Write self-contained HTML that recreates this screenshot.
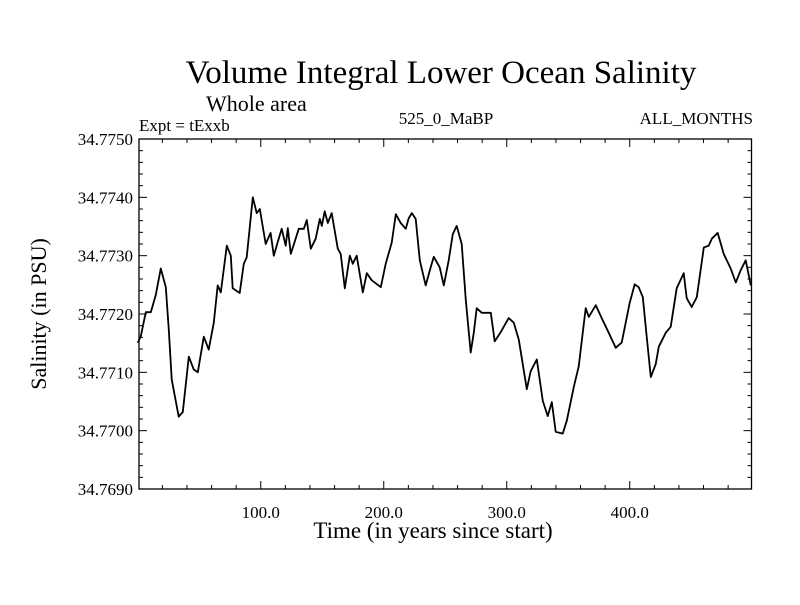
<!DOCTYPE html>
<html><head><meta charset="utf-8"><style>
html,body{margin:0;padding:0;background:#fff;}
svg text{font-family:"Liberation Serif",serif;fill:#000;}
</style></head><body>
<svg id="chart" width="800" height="600" viewBox="0 0 800 600" xmlns="http://www.w3.org/2000/svg">
<rect width="800" height="600" fill="#fff"/>
<text x="441" y="83" font-size="33" text-anchor="middle">Volume Integral Lower Ocean Salinity</text>
<text x="206" y="111" font-size="22">Whole area</text>
<text x="139" y="131" font-size="17">Expt = tExxb</text>
<text x="446" y="124" font-size="17" text-anchor="middle">525_0_MaBP</text>
<text x="753" y="124" font-size="17" text-anchor="end">ALL_MONTHS</text>
<text x="433" y="538" font-size="23" text-anchor="middle">Time (in years since start)</text>
<text x="0" y="0" font-size="22" text-anchor="middle" transform="translate(46,314) rotate(-90)">Salinity (in PSU)</text>
<g id="axes"></g>
<g id="plot"></g>
</svg>
<script>
const years=[0,2.4,6.5,10.6,14.6,18.7,22.8,25.2,27.6,33.3,36.6,41.5,45.5,48.8,53.7,57.7,61.8,65,67.5,72.4,75.6,77.2,82.9,86.2,88.6,93.5,96.7,99.2,104,108,110.6,114.6,117,120.3,122,124.4,130.9,135,137.4,140.7,144.7,148,149.6,152,154.5,157.7,162.6,165,168.3,172.4,174.8,178,183,186.2,190.2,197.6,201.6,206.5,209.8,213.8,217.9,220.3,222.8,226,229.3,234.1,238.2,240.7,245.5,248.8,252.8,256.1,259.3,263.4,266.7,270.7,273.2,275.6,279.7,287,290.2,295.1,301.6,305.7,309.8,316.3,319.5,324.4,329.3,333.3,336.6,339.8,345.5,348.8,354.5,358.5,364.2,366.7,372.4,377.2,382.9,388.6,393.5,400,404,407.3,410.6,413.8,417.1,421.1,423.6,429.3,433.3,438.2,443.9,446.3,450.4,454.5,460.2,464.2,466.7,471.5,476.4,482.1,486.2,490.2,494.3,498.4];
const salinity=[34.77151,34.77161,34.77203,34.77203,34.77232,34.77278,34.77246,34.77173,34.77088,34.77024,34.77032,34.77127,34.77105,34.77100,34.77161,34.77139,34.77185,34.77249,34.77237,34.77317,34.77300,34.77244,34.77236,34.77286,34.77297,34.77400,34.77373,34.77380,34.77320,34.77339,34.77300,34.77329,34.77346,34.77317,34.77347,34.77303,34.77346,34.77346,34.77361,34.77312,34.77329,34.77363,34.77351,34.77376,34.77356,34.77373,34.77312,34.77303,34.77244,34.77300,34.77286,34.77300,34.77237,34.77270,34.77258,34.77246,34.77286,34.77322,34.77371,34.77356,34.77346,34.77364,34.77373,34.77363,34.77292,34.77249,34.77280,34.77298,34.77280,34.77249,34.77292,34.77337,34.77351,34.77320,34.77224,34.77134,34.77168,34.77210,34.77202,34.77202,34.77153,34.77169,34.77193,34.77185,34.77156,34.77071,34.77102,34.77122,34.77051,34.77025,34.77049,34.76998,34.76995,34.77017,34.77075,34.77110,34.77210,34.77195,34.77215,34.77193,34.77168,34.77142,34.77151,34.77219,34.77251,34.77246,34.77229,34.77161,34.77092,34.77114,34.77144,34.77168,34.77178,34.77244,34.77270,34.77227,34.77212,34.77229,34.77314,34.77317,34.77329,34.77339,34.77303,34.77278,34.77254,34.77275,34.77292,34.77249];
const xTickValues=[100,200,300,400];
const xTickLabels=["100.0","200.0","300.0","400.0"];
const yTickValues=[34.769,34.770,34.771,34.772,34.773,34.774,34.775];
const yTickLabels=["34.7690","34.7700","34.7710","34.7720","34.7730","34.7740","34.7750"];

const L=139,R=751.5,T=139,B=489;
const X0=1,X1=499,Y0=34.769,Y1=34.775;
const xs=v=>L+(v-X0)/(X1-X0)*(R-L);
const ys=v=>B-(v-Y0)/(Y1-Y0)*(B-T);
const NS="http://www.w3.org/2000/svg";
const axes=document.getElementById('axes');
const plot=document.getElementById('plot');
function mk(tag,attrs,parent){const e=document.createElementNS(NS,tag);for(const k in attrs)e.setAttribute(k,attrs[k]);parent.appendChild(e);return e;}

const frame=mk('rect',{x:L,y:T,width:R-L,height:B-T,fill:'none',stroke:'#000','stroke-width':1.3},axes);



for(let v=20;v<X1;v+=20){
  const major=(v%100===0);
  const len=major?8:4;
  const x=xs(v);
  const t1=mk('line',{x1:x,y1:B,x2:x,y2:B-len,stroke:'#000','stroke-width':1},axes);
  
  
  const t2=mk('line',{x1:x,y1:T,x2:x,y2:T+len,stroke:'#000','stroke-width':1},axes);
  
  
}
xTickValues.forEach((v,i)=>{
  const t=mk('text',{x:xs(v),y:B+29,'font-size':17,'text-anchor':'middle'},axes);
  t.textContent=xTickLabels[i];
  
  
});
for(let k=1;k<30;k++){
  const v=Y0+k*0.0002;
  const major=(k%5===0);
  const len=major?8:4;
  const y=ys(v);
  const t1=mk('line',{x1:L,y1:y,x2:L+len,y2:y,stroke:'#000','stroke-width':1},axes);
  
  
  const t2=mk('line',{x1:R,y1:y,x2:R-len,y2:y,stroke:'#000','stroke-width':1},axes);
  
  
}
yTickValues.forEach((v,i)=>{
  const t=mk('text',{x:L-6,y:ys(v)+6,'font-size':17,'text-anchor':'end'},axes);
  t.textContent=yTickLabels[i];
  
  
});
let d='';
years.forEach((v,i)=>{d+=(i?'L':'M')+xs(v).toFixed(1)+','+ys(salinity[i]).toFixed(1);});
const line=mk('path',{d:d,fill:'none',stroke:'#000','stroke-width':1.8,'stroke-linejoin':'round'},plot);


</script>
</body></html>
